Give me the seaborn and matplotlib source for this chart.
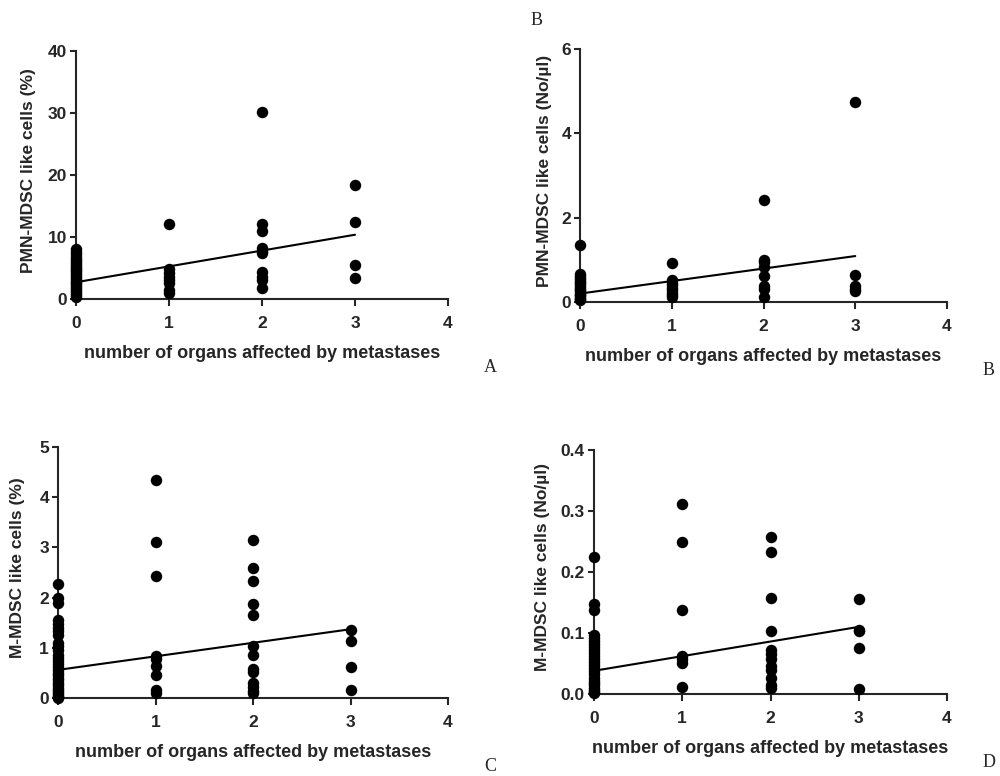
import matplotlib
matplotlib.use("Agg")
import matplotlib.pyplot as plt
import pandas as pd
import seaborn as sns

# values
organs_a = [0] * 25 + [1] * 8 + [2] * 10 + [3] * 4
pmn_pct = [8.0, 7.6, 7.2, 6.8, 6.5, 6.1, 5.8, 5.5, 5.2, 4.9, 4.6, 4.3, 4.0, 3.7,
           3.4, 3.1, 2.8, 2.5, 2.2, 1.9, 1.6, 1.3, 1.0, 0.7, 0.4,
           12.1, 4.8, 4.2, 3.6, 3.0, 2.6, 1.5, 1.0,
           30.1, 12.0, 10.9, 8.2, 7.8, 7.4, 4.3, 3.6, 3.1, 1.8,
           18.4, 12.4, 5.5, 3.4]
fit_pmn_pct = [2.7, 10.35]

organs_b = [0] * 18 + [1] * 9 + [2] * 8 + [3] * 5
pmn_abs = [1.35, 0.67, 0.62, 0.57, 0.52, 0.48, 0.44, 0.40, 0.36, 0.32, 0.28,
           0.24, 0.20, 0.17, 0.14, 0.10, 0.07, 0.04,
           0.93, 0.52, 0.46, 0.40, 0.34, 0.28, 0.22, 0.16, 0.12,
           2.43, 1.0, 0.95, 0.83, 0.61, 0.37, 0.32, 0.12,
           4.75, 0.63, 0.38, 0.32, 0.25]
fit_pmn_abs = [0.2, 1.09]

organs_c = [0] * 30 + [1] * 9 + [2] * 13 + [3] * 4
m_pct = [2.28, 1.99, 1.89, 1.56, 1.48, 1.40, 1.34, 1.26, 1.10, 1.03, 0.95,
         0.86, 0.80, 0.74, 0.68, 0.62, 0.56, 0.50, 0.45, 0.40, 0.35, 0.30,
         0.25, 0.20, 0.16, 0.12, 0.08, 0.05, 0.03, 0.01,
         4.34, 3.11, 2.44, 0.83, 0.78, 0.63, 0.45, 0.15, 0.10,
         3.14, 2.58, 2.34, 1.87, 1.65, 1.03, 0.86, 0.58, 0.51, 0.30, 0.22,
         0.14, 0.09,
         1.35, 1.13, 0.61, 0.15]
fit_m_pct = [0.56, 1.37]

organs_d = [0] * 25 + [1] * 7 + [2] * 12 + [3] * 5
m_abs = [0.225, 0.147, 0.138, 0.097, 0.092, 0.087, 0.082, 0.077, 0.072,
         0.067, 0.062, 0.057, 0.052, 0.047, 0.042, 0.037, 0.032, 0.027,
         0.022, 0.018, 0.014, 0.010, 0.007, 0.004, 0.002,
         0.311, 0.249, 0.137, 0.063, 0.058, 0.051, 0.011,
         0.257, 0.232, 0.157, 0.104, 0.072, 0.065, 0.058, 0.046, 0.040,
         0.026, 0.015, 0.010,
         0.155, 0.105, 0.103, 0.076, 0.008]
fit_m_abs = [0.038, 0.110]

fit_x = [0, 3]

panels = [
    # organs, values, fit, ylabel, ymax, yticks, rect, letter, ylabel x
    (organs_a, pmn_pct, fit_pmn_pct, "PMN-MDSC like cells (%)", 40,
     [0, 10, 20, 30, 40], [0.076, 0.6147, 0.372, 0.320], "A", 0.029),
    (organs_b, pmn_abs, fit_pmn_abs, "PMN-MDSC like cells (No/µl)", 6,
     [0, 2, 4, 6], [0.580, 0.6108, 0.367, 0.326], "B", 0.545),
    (organs_c, m_pct, fit_m_pct, "M-MDSC like cells (%)", 5,
     [0, 1, 2, 3, 4, 5], [0.058, 0.1005, 0.390, 0.3235], "C", 0.018),
    (organs_d, m_abs, fit_m_abs, "M-MDSC like cells (No/µl)", 0.4,
     [0.0, 0.1, 0.2, 0.3, 0.4], [0.594, 0.1057, 0.353, 0.3144], "D", 0.543),
]

sns.set_style("ticks")
plt.rcParams["font.family"] = ["Liberation Sans", "DejaVu Sans"]
plt.rcParams["axes.linewidth"] = 1.5
plt.rcParams["xtick.major.width"] = 1.5
plt.rcParams["ytick.major.width"] = 1.5
plt.rcParams["xtick.major.size"] = 5
plt.rcParams["ytick.major.size"] = 4

fig = plt.figure(figsize=(10, 7.76), dpi=100)

for organs, vals, fit, ylabel, ymax, yticks, rect, letter, ylx in panels:
    ax = fig.add_axes(rect)
    df = pd.DataFrame({"organs": organs, "value": vals})
    sns.scatterplot(data=df, x="organs", y="value", ax=ax, color="black",
                    s=68, edgecolor="black", linewidth=0, clip_on=False, zorder=3)
    fit_df = pd.DataFrame({"organs": fit_x, "value": fit})
    sns.lineplot(data=fit_df, x="organs", y="value", ax=ax, color="black",
                 linewidth=1.5, zorder=4)
    ax.set_xlim(0, 4)
    ax.set_ylim(0, ymax)
    ax.set_xticks([0, 1, 2, 3, 4])
    ax.set_yticks(yticks)
    if ymax < 1:
        ax.set_yticklabels([f"{t:.1f}" for t in yticks])
    ax.tick_params(axis="x", labelsize=12.5, pad=7)
    ax.tick_params(axis="y", labelsize=12.5, pad=2.5)
    for lab in ax.get_xticklabels() + ax.get_yticklabels():
        lab.set_fontweight("bold")
    ax.set_xlabel("number of organs affected by metastases", fontsize=13,
                  fontweight="bold", labelpad=10)
    ax.set_ylabel("")
    sns.despine(ax=ax)
    # y label placed at fixed figure x
    fig.text(ylx, rect[1] + rect[3] / 2 + 0.006, ylabel, rotation=90,
             fontsize=12.5, fontweight="bold", ha="center", va="center")
    fig.text(rect[0] + rect[2] + 0.036, rect[1] - 0.088, letter,
             fontsize=13, family=["Liberation Serif"], ha="left", va="center")

fig.text(0.531, 0.974, "B", fontsize=13, family=["Liberation Serif"],
         ha="left", va="center")

fig.savefig("out.png", dpi=100, facecolor="white")
